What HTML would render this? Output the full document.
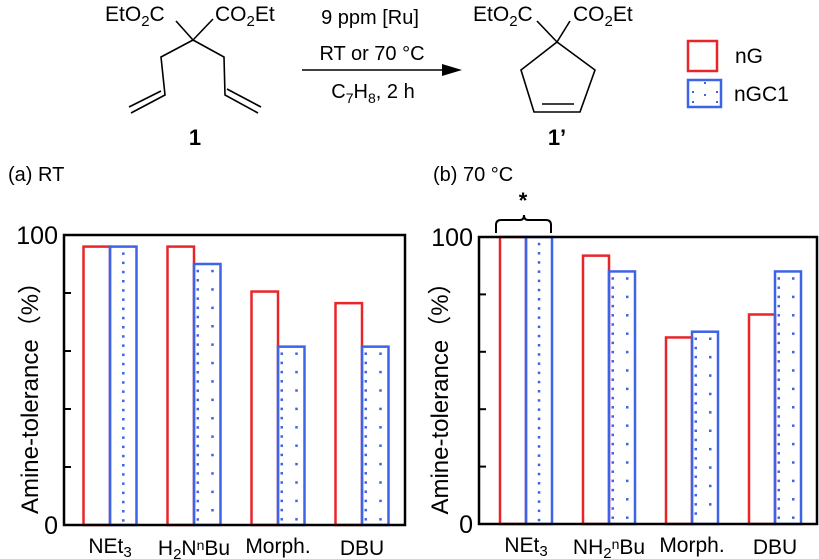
<!DOCTYPE html>
<html><head><meta charset="utf-8"><style>
body{margin:0;background:#fff;}
svg{display:block;font-family:"Liberation Sans",sans-serif;}
</style></head><body>
<svg id="fig" width="819" height="559" viewBox="0 0 819 559">
<g font-size="21" fill="#000">
 <text x="105" y="21">EtO<tspan font-size="15" dy="5">2</tspan><tspan dy="-5">C</tspan></text>
 <text x="215" y="21">CO<tspan font-size="15" dy="5">2</tspan><tspan dy="-5">Et</tspan></text>
 <g stroke="#000" stroke-width="1.6" fill="none">
  <path d="M176,21 L193,40 L213,19 M193,40 L161,57 L165,95 L131,113 M161,91 L129,107 M193,40 L224,57 L225,95 L258,113 M227,89 L261,107"/>
  <path d="M537,21 L557,42 L570,21 M557,42 L521,70 L534,112 L580,112 L595,70 Z M542,104 L574,104"/>
  <path d="M302,70 L450,70"/>
 </g>
 <polygon points="462,70 442,64 442,76" fill="#000"/>
 <text x="195" y="145" text-anchor="middle" font-weight="bold" font-size="22">1</text>
 <text x="557" y="145" text-anchor="middle" font-weight="bold" font-size="22">1’</text>
 <text x="370" y="24" text-anchor="middle" font-size="20">9 ppm [Ru]</text>
 <text x="372" y="60" text-anchor="middle" font-size="20">RT or 70 °C</text>
 <text x="373" y="98" text-anchor="middle" font-size="20">C<tspan font-size="14" dy="5">7</tspan><tspan dy="-5">H</tspan><tspan font-size="14" dy="5">8</tspan><tspan dy="-5">, 2 h</tspan></text>
 <text x="473" y="21">EtO<tspan font-size="15" dy="5">2</tspan><tspan dy="-5">C</tspan></text>
 <text x="573" y="21">CO<tspan font-size="15" dy="5">2</tspan><tspan dy="-5">Et</tspan></text>
</g>
<g>
 <rect x="688" y="41" width="29" height="30" fill="none" stroke="#e8262a" stroke-width="2.5"/>
 <text x="735" y="63" font-size="21">nG</text>
 <rect x="688" y="80" width="33" height="27" fill="none" stroke="#3d63e6" stroke-width="2.5"/>
 <rect x="692" y="91" width="2" height="2" fill="#3d63e6"/><rect x="704" y="94" width="2" height="2" fill="#3d63e6"/><rect x="716" y="91" width="2" height="2" fill="#3d63e6"/><rect x="704" y="82" width="2" height="2" fill="#3d63e6"/><rect x="692" y="101" width="2" height="2" fill="#3d63e6"/><rect x="716" y="101" width="2" height="2" fill="#3d63e6"/>
 <text x="734" y="101" font-size="21">nGC1</text>
</g>
<text x="8" y="181" font-size="20">(a) RT</text>
<text x="433" y="181" font-size="20">(b) 70 °C</text>
<g id="chartA"></g>
<g id="chartB"></g>
<g stroke="#000" stroke-width="2" fill="none">
 <path d="M496,233 L496,225 Q496,220 501,220 L520,220 Q524,220 524,215 Q524,220 528,220 L546,220 Q551,220 551,225 L551,233"/>
</g>
<text x="523" y="208" font-size="22" font-weight="bold" text-anchor="middle">*</text>
</svg>
<script>
const categoriesA = ["NEt3","H2NnBu","Morph.","DBU"];
const ngA = [96, 96, 80.5, 76.5];
const ngc1A = [96, 90, 61.5, 61.5];
const categoriesB = ["NEt3","NH2nBu","Morph.","DBU"];
const ngB = [100, 93.5, 65, 73];
const ngc1B = [100, 88, 67, 88];
const yTicks = [0, 20, 40, 60, 80, 100];
const yTickLabels = ["0","","","","","100"];
const NS="http://www.w3.org/2000/svg";
function mk(tag, attrs, parent){const e=document.createElementNS(NS,tag);for(const k in attrs)e.setAttribute(k,attrs[k]);parent.appendChild(e);return e;}
function labelHTML(t, g, x, y){
 const tx=mk('text',{x:x,y:y,'text-anchor':'middle','font-size':21},g);
 
 
 const parts = {"NEt3":[["NEt",0,21],["3",4,15]],"H2NnBu":[["H",0,21],["2",4,15],["N",-4,21],["n",-5,14],["Bu",5,21]],"NH2nBu":[["NH",0,21],["2",4,15],["n",-9,14],["Bu",5,21]]}[t];
 if(!parts){tx.textContent=t;return;}
 parts.forEach(p=>{const s=mk('tspan',{dy:p[1],'font-size':p[2]},tx);s.textContent=p[0];});
}
function drawChart(gid, cfg, cats, s1, s2){
 const g=document.getElementById(gid);
 
 
 const y=v=>cfg.bottom-(cfg.bottom-cfg.top)*v/100;
 const x0=i=>cfg.c0+cfg.pitch*i;
 yTicks.forEach((t,i)=>{
  const tk=mk('line',{x1:cfg.left,x2:cfg.left+7,y1:y(t),y2:y(t),stroke:'#000','stroke-width':2},g);
  
  
  if(yTickLabels[i]){const l=mk('text',{x:cfg.left-6,y:y(t)+9,'text-anchor':'end','font-size':25},g);l.textContent=yTickLabels[i];
   
   }
 });
 cats.forEach((c,i)=>{
  const cx=x0(i), w=cfg.bw;
  const r=mk('rect',{x:cx-w,y:y(s1[i]),width:w,height:y(0)-y(s1[i]),fill:'none',stroke:'#e8262a','stroke-width':2.5},g);
  
  
  const b=mk('rect',{x:cx,y:y(s2[i]),width:w,height:y(0)-y(s2[i]),fill:'none',stroke:'#3d63e6','stroke-width':2.5},g);
  
  
  let n=0;
  for(let yy=y(s2[i])+7;yy<y(0)-3;yy+=9.2,n++){
   if(i===0){ mk('rect',{x:cx+w/2-1.2,y:yy-1.2,width:2.5,height:2.5,fill:'#3d63e6'},g); }
   else { mk('rect',{x:cx+2.5,y:yy-1.2,width:2.5,height:2.5,fill:'#3d63e6'},g);
     if(n%2===0) mk('rect',{x:cx+w/2+4,y:yy-1.2,width:2.5,height:2.5,fill:'#3d63e6'},g); }
  }
  labelHTML(c,g,cx,cfg.bottom+cfg.labelDy+(i%2?2:0));
 });
 const f=mk('rect',{x:cfg.left,y:cfg.top,width:cfg.right-cfg.left,height:cfg.bottom-cfg.top,fill:'none',stroke:'#000','stroke-width':2.5},g);
 
 
 const at=mk('text',{x:0,y:0,'text-anchor':'middle','font-size':24,transform:`translate(${cfg.titleX},${(cfg.top+cfg.bottom)/2+12}) rotate(-90)`},g);
 at.textContent='Amine-tolerance（%）';
 
 
}
drawChart('chartA',{name:'chart-rt',left:64,right:405,top:235,bottom:525,c0:110,pitch:84,bw:26.5,titleX:38,labelDy:28},categoriesA,ngA,ngc1A);
drawChart('chartB',{name:'chart-70c',left:479,right:817,top:237,bottom:524,c0:526,pitch:83,bw:26,titleX:448,labelDy:28},categoriesB,ngB,ngc1B);
</script>
</body></html>
